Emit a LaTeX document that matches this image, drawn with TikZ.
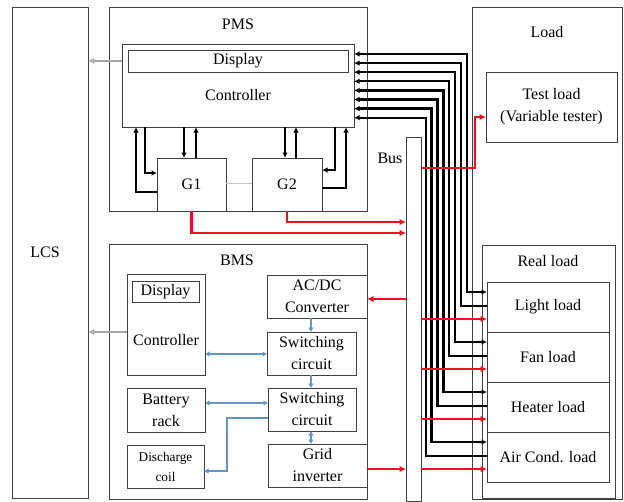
\documentclass[tikz,border=0pt]{standalone}
\usepackage{fontspec}
\setmainfont{Liberation Serif}
\usepackage{tikz}
\usetikzlibrary{arrows.meta,positioning,calc}
\definecolor{pwrRed}  {RGB}{236, 16, 32}
\definecolor{sigBlue} {RGB}{98, 150, 200}
\definecolor{lcsGray} {RGB}{165,165,165}
\tikzset{
  blk/.style={draw=black!75,line width=0.8pt,inner sep=0pt,outer sep=0pt,align=center},
  ctl/.style={draw=black,line width=2.3pt,-{Latex[length=5.5pt,width=5.5pt]}},
  pwr/.style={draw=pwrRed,line width=2.2pt,-{Latex[length=6.5pt,width=6.5pt]}},
  sig/.style={draw=sigBlue,line width=1.7pt,-{Latex[length=4.5pt,width=5.5pt]}},
  lcsline/.style={draw=lcsGray,line width=1.5pt,-{Latex[open,length=6pt,width=6pt]}},
}
\begin{document}
\begin{tikzpicture}[x=1pt,y=-1pt,font=\fontsize{16}{22}\selectfont]
        \useasboundingbox (0,0) rectangle (624,501);

        % LCS
        \node[blk,minimum width=76,minimum height=491] (lcs) at (50,252.5){};
        \node (lcstxt) at (45,252){LCS};

        % PMS
        \node[blk,minimum width=258,minimum height=204] (pms) at (238,109){};
        \node (pmstxt) at (238,24){PMS};
        \node[blk,minimum width=232,minimum height=83] (pctrl) at (238,85.5){};
        \node[blk,minimum width=220,minimum height=22] (pdisp) at (238,61){Display};
        \node (pctrltxt) at (238,95){Controller};
        \node[blk,minimum width=69,minimum height=53] (g1) at (191.5,184.5){G1};
        \node[blk,minimum width=70,minimum height=53] (g2) at (287,184.5){G2};

        % BMS
        \node[blk,minimum width=258,minimum height=255] (bms) at (238,371.5){};
        \node (bmstxt) at (237,260){BMS};
        \node[blk,minimum width=78,minimum height=101] (bctrl) at (166,324.5){};
        \node[blk,minimum width=67,minimum height=21] (bdisp) at (165.5,291.5){Display};
        \node (bctrltxt) at (166,340){Controller};
        \node[blk,minimum width=78,minimum height=44] (batt) at (166,410){Battery\\rack};
        \node[blk,minimum width=77,minimum height=43,font=\fontsize{13.3}{20}\selectfont]
              (coil) at (165.5,466.5){Discharge\\coil};
        \node[blk,minimum width=100,minimum height=43] (acdc) at (317,296.5){AC/DC\\Converter};
        \node[blk,minimum width=89,minimum height=43] (sw1) at (311.5,353.5){Switching\\circuit};
        \node[blk,minimum width=88,minimum height=43] (sw2) at (312,409.5){Switching\\circuit};
        \node[blk,minimum width=99,minimum height=43] (inv) at (317.5,465.5){Grid\\inverter};

        % Bus
        \node[blk,minimum width=15,minimum height=364] (bus) at (413.5,319){};
        \node (bustxt) at (390,158){Bus};

        % Load
        \node[blk,minimum width=150,minimum height=492] (load) at (547,253){};
        \node (loadtxt) at (547,32){Load};
        \node[blk,minimum width=131,minimum height=70] (test) at (551.5,107){Test load\\(Variable tester)};
        \node[blk,minimum width=133,minimum height=253] (real) at (548.5,371.5){};
        \node (realtxt) at (548,261){Real load};
        \node[blk,minimum width=122,minimum height=50] (light)  at (548,307){Light load};
        \node[blk,minimum width=122,minimum height=50] (fan)    at (548,357){Fan load};
        \node[blk,minimum width=122,minimum height=50] (heater) at (548,407){Heater load};
        \node[blk,minimum width=122,minimum height=50] (air)    at (548,457){Air Cond. load};

        % PMS controller <-> G1, G2
        \draw[ctl] (g1.west |- 0,192) -| (pctrl.south -| 136,0);
        \draw[ctl] (pctrl.south -| 145,0) |- (g1.west |- 0,173);
        \draw[ctl] (pctrl.south -| 184,0) -- (g1.north -| 184,0);
        \draw[ctl] (g1.north -| 196,0) -- (pctrl.south -| 196,0);
        \draw[ctl] (pctrl.south -| 285,0) -- (g2.north -| 285,0);
        \draw[ctl] (g2.north -| 296,0) -- (pctrl.south -| 296,0);
        \draw[ctl] (pctrl.south -| 335,0) |- (g2.east |- 0,170);
        \draw[ctl] (g2.east |- 0,188) -| (pctrl.south -| 346,0);
        \draw[lcsGray!70,line width=1pt] (g1.east |- 0,183) -- (g2.west |- 0,183);

        % controller <-> loads
        \foreach \n/\i in {light/0, fan/1, heater/2, air/3}{
          \pgfmathsetmacro\ya{54+18.2*\i}
          \pgfmathsetmacro\yb{63.1+18.2*\i}
          \pgfmathsetmacro\xa{467-11.8*\i}
          \pgfmathsetmacro\xb{461.1-11.8*\i}
          \pgfmathsetmacro\yc{292+50*\i}
          \pgfmathsetmacro\yd{306+50*\i}
          \draw[ctl,{Latex[length=5.5pt,width=5.5pt]}-{Latex[length=5.5pt,width=5.5pt]}]
               (pctrl.east |- 0,\ya) -| (\xa,\yc) -- (\n.west |- 0,\yc);
          \draw[ctl,{Latex[length=5.5pt,width=5.5pt]}-]
               (pctrl.east |- 0,\yb) -| (\xb,\yd) -- (\n.west |- 0,\yd);
        }

        % power flow
        \foreach \n/\i in {light/0, fan/1, heater/2, air/3}{
          \pgfmathsetmacro\yr{319+50*\i}
          \draw[pwr] (bus.east |- 0,\yr) -- (\n.west |- 0,\yr);
        }
        \draw[pwr] (bus.east |- 0,168) -| (475,117) -- (test.west |- 0,117);
        \draw[pwr] (g2.south) |- (bus.west |- 0,222);
        \draw[pwr] (g1.south) |- (bus.west |- 0,233);
        \draw[pwr] (bus.west |- 0,299) -- (acdc.east |- 0,299);
        \draw[pwr] (inv.east |- 0,469) -- (bus.west |- 0,469);

        % BMS signals
        \draw[sig,{Latex[length=4.5pt,width=5.5pt]}-{Latex[length=4.5pt,width=5.5pt]}]
             (bctrl.east |- 0,354) -- (sw1.west |- 0,354);
        \draw[sig,{Latex[length=4.5pt,width=5.5pt]}-{Latex[length=4.5pt,width=5.5pt]}]
             (batt.east |- 0,403) -- (sw2.west |- 0,403);
        \draw[sig] (sw2.west |- 0,418) -| (227,471) -- (coil.east |- 0,471);
        \draw[sig] (acdc.south -| 311,0) -- (sw1.north -| 311,0);
        \draw[sig] (sw1.south -| 311,0) -- (sw2.north -| 311,0);
        \draw[sig,{Latex[length=4.5pt,width=5.5pt]}-{Latex[length=4.5pt,width=5.5pt]}]
             (sw2.south -| 311,0) -- (inv.north -| 311,0);

        % to LCS
        \draw[lcsline] (pctrl.west |- 0,61) -- (lcs.east |- 0,61);
        \draw[lcsline] (bctrl.west |- 0,332) -- (lcs.east |- 0,332);
      \end{tikzpicture}
\end{document}
